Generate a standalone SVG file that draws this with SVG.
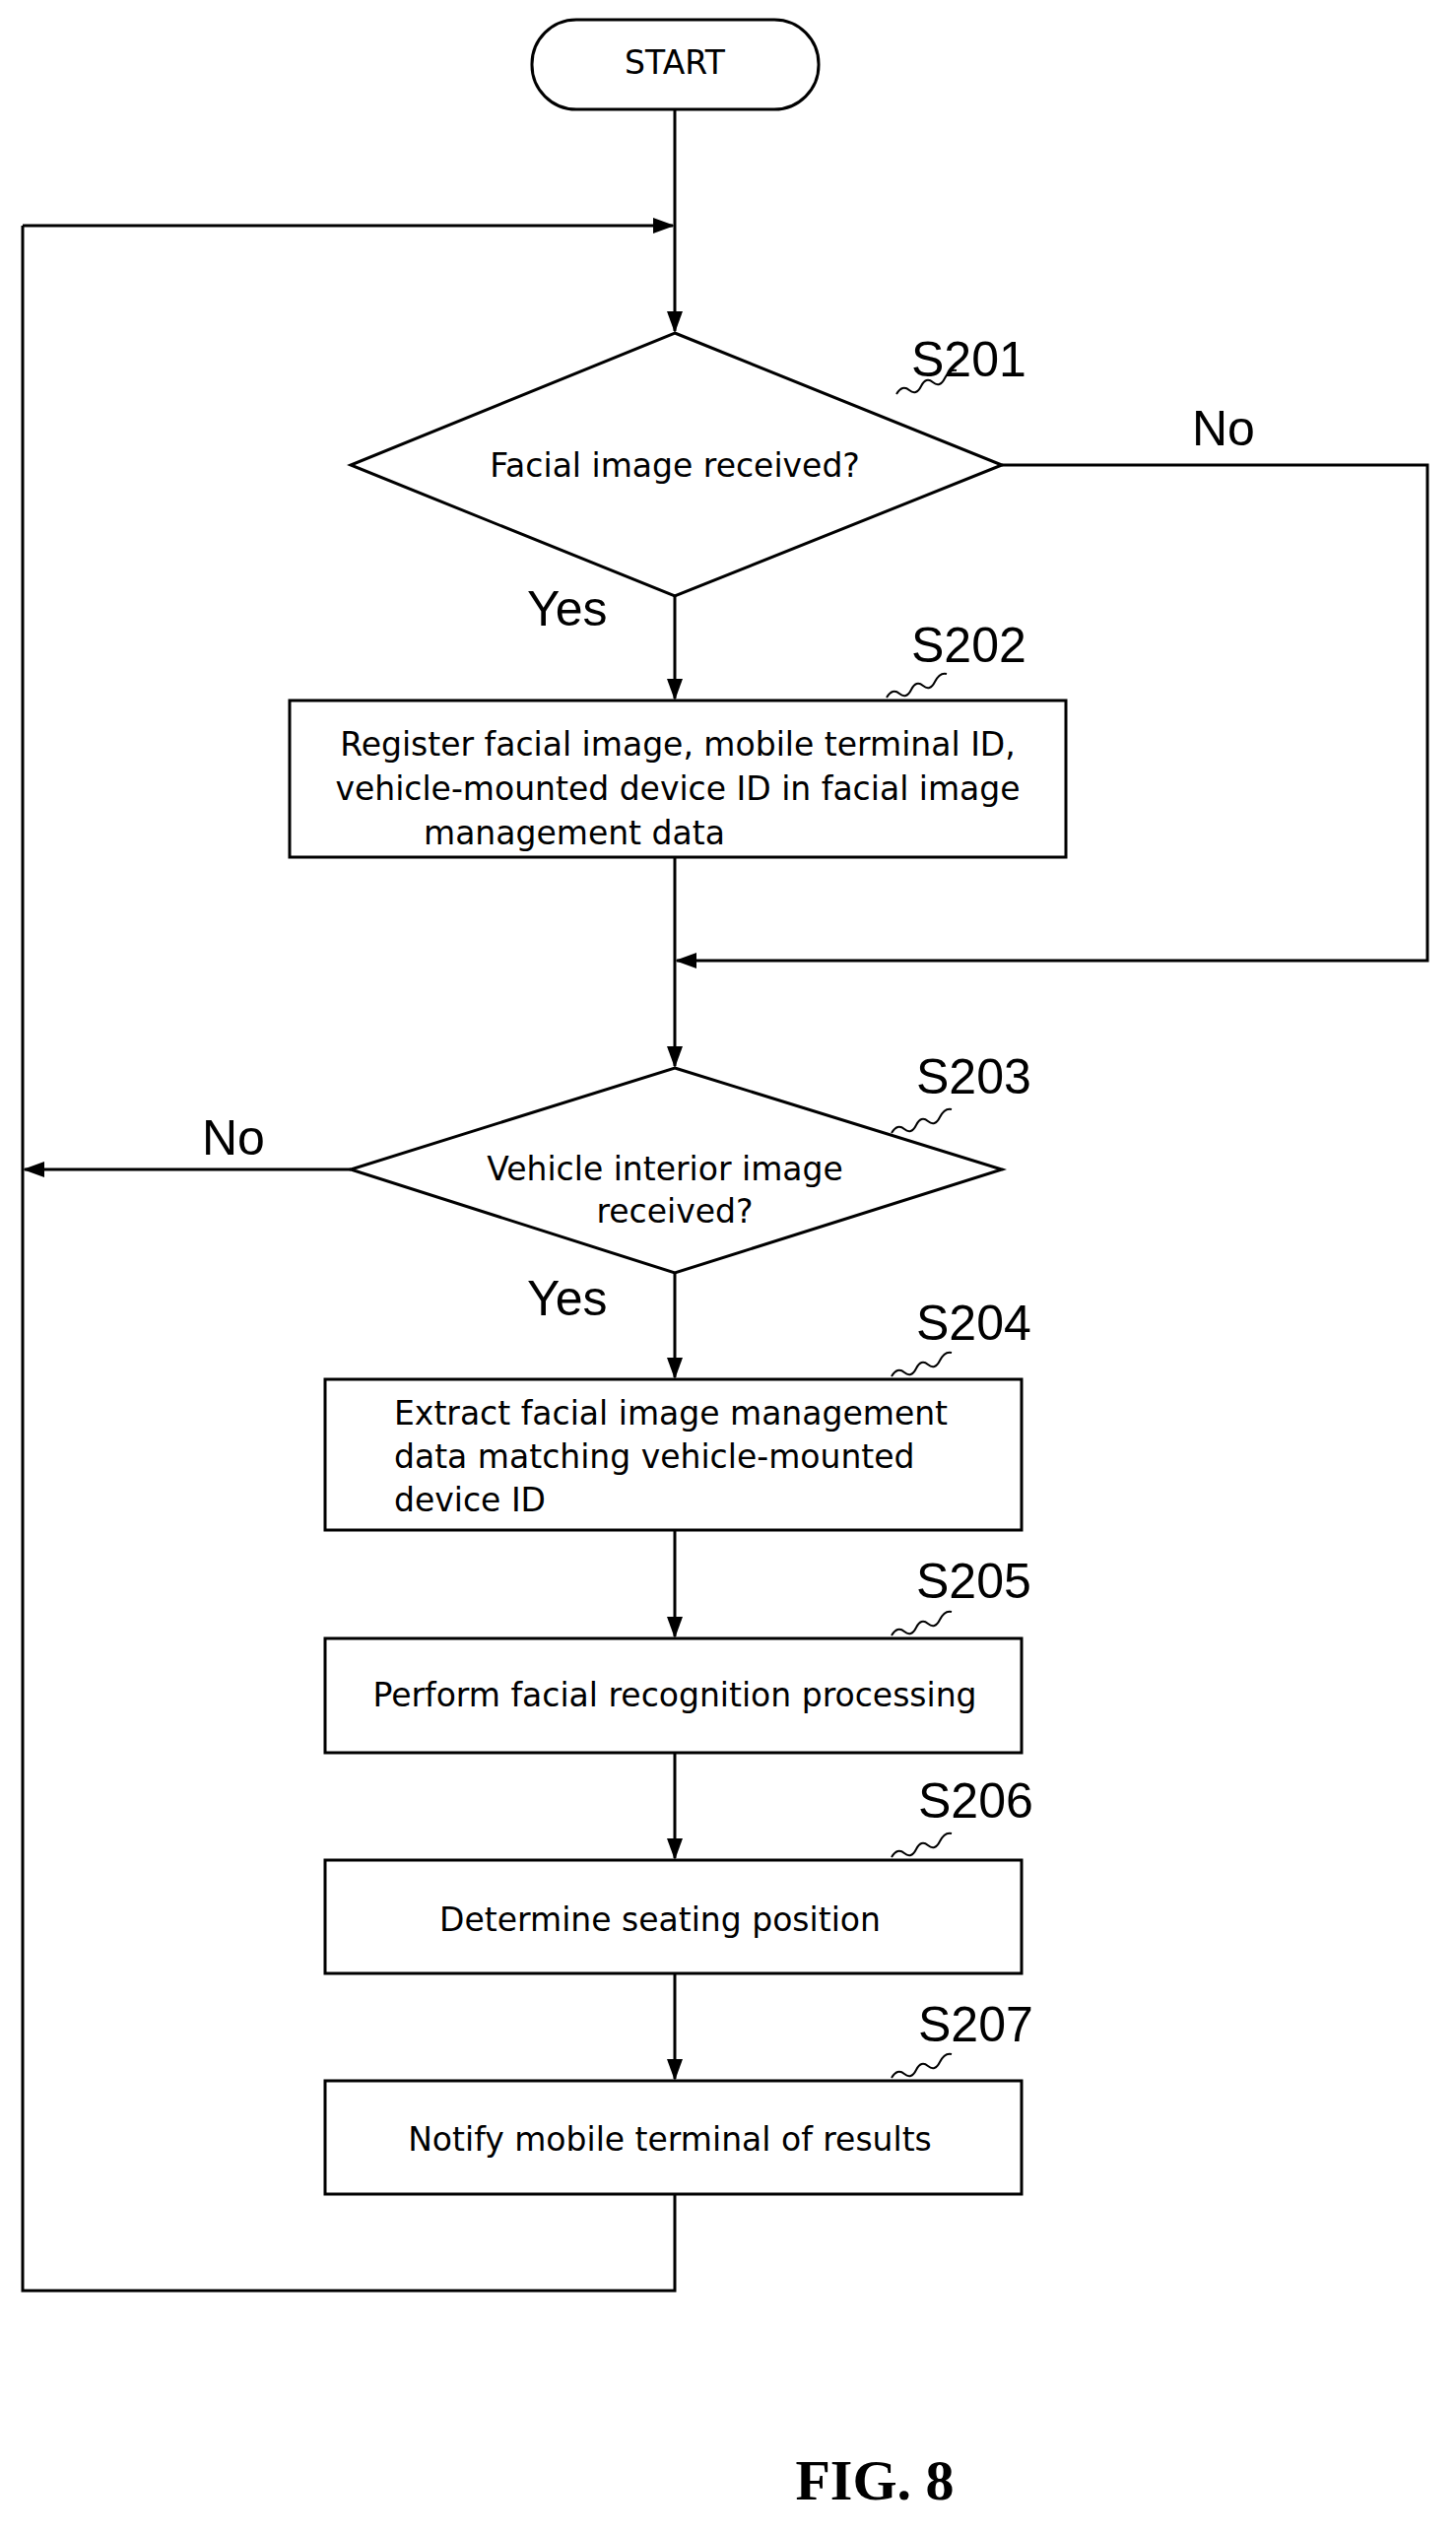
<svg xmlns="http://www.w3.org/2000/svg" width="1478" height="2571" viewBox="0 0 1478 2571">
<style>
.s{fill:#fff;stroke:#000;stroke-width:3}
.l{fill:none;stroke:#000;stroke-width:3}
.t{font-family:"DejaVu Sans",sans-serif;font-size:33px;text-anchor:middle}
.b{font-family:"Liberation Sans",sans-serif;font-size:50px}
.w{fill:none;stroke:#000;stroke-width:2}
</style>
<defs>
<marker id="m" markerWidth="22" markerHeight="22" refX="20" refY="11" orient="auto" markerUnits="userSpaceOnUse"><path d="M0,3L22,11L0,19z"/></marker></defs>
<g id="connectors">
<path class="l" d="M685,111V336" marker-end="url(#m)"/>
<path class="l" d="M23,229H683" marker-end="url(#m)"/>
<path class="l" d="M685,605V709" marker-end="url(#m)"/>
<path class="l" d="M685,870V1082" marker-end="url(#m)"/>
<path class="l" d="M1017,472H1449V975H687" marker-end="url(#m)"/>
<path class="l" d="M356,1187H25" marker-end="url(#m)"/>
<path class="l" d="M685,1292V1398" marker-end="url(#m)"/>
<path class="l" d="M685,1553V1661" marker-end="url(#m)"/>
<path class="l" d="M685,1779V1886" marker-end="url(#m)"/>
<path class="l" d="M685,2003V2110" marker-end="url(#m)"/>
<path class="l" d="M685,2227V2325H23V229"/>
<text class="b" x="1210" y="452">No</text>
<text class="b" x="535" y="635">Yes</text>
<text class="b" x="205" y="1172">No</text>
<text class="b" x="535" y="1335">Yes</text>
</g>
<g id="start"><rect class="s" x="540" y="20" width="291" height="91" rx="45"/><text class="t" x="685" y="75">START</text></g>
<g id="S201"><polygon class="s" points="685,338 1017,472 685,605 356,472"/><text class="t" x="685" y="484">Facial image received?</text>
<path class="w" d="M910,400q6,-10 13,-4t12,-4t12,-4t12,-4t12,-8"/><text class="b" x="925" y="382">S201</text></g>
<g id="S202"><rect class="s" x="294" y="711" width="788" height="159"/>
<text class="t" x="688" y="767">Register facial image, mobile terminal ID,</text>
<text class="t" x="688" y="812">vehicle-mounted device ID in facial image</text>
<text class="t" x="430" y="857" style="text-anchor:start">management data</text>
<path class="w" d="M900,708q6,-10 13,-4t12,-4t12,-4t12,-4t12,-8"/><text class="b" x="925" y="672">S202</text></g>
<g id="S203"><polygon class="s" points="685,1084 1017,1187 685,1292 356,1187"/>
<text class="t" x="675" y="1198">Vehicle interior image</text><text class="t" x="685" y="1241">received?</text>
<path class="w" d="M905,1150q6,-10 13,-4t12,-4t12,-4t12,-4t12,-8"/><text class="b" x="930" y="1110">S203</text></g>
<g id="S204"><rect class="s" x="330" y="1400" width="707" height="153"/>
<text class="t" x="400" y="1446" style="text-anchor:start">Extract facial image management</text>
<text class="t" x="400" y="1490" style="text-anchor:start">data matching vehicle-mounted</text>
<text class="t" x="400" y="1534" style="text-anchor:start">device ID</text>
<path class="w" d="M905,1397q6,-10 13,-4t12,-4t12,-4t12,-4t12,-8"/><text class="b" x="930" y="1360">S204</text></g>
<g id="S205"><rect class="s" x="330" y="1663" width="707" height="116"/><text class="t" x="685" y="1732">Perform facial recognition processing</text>
<path class="w" d="M905,1660q6,-10 13,-4t12,-4t12,-4t12,-4t12,-8"/><text class="b" x="930" y="1622">S205</text></g>
<g id="S206"><rect class="s" x="330" y="1888" width="707" height="115"/><text class="t" x="670" y="1960">Determine seating position</text>
<path class="w" d="M905,1885q6,-10 13,-4t12,-4t12,-4t12,-4t12,-8"/><text class="b" x="932" y="1845">S206</text></g>
<g id="S207"><rect class="s" x="330" y="2112" width="707" height="115"/><text class="t" x="680" y="2183">Notify mobile terminal of results</text>
<path class="w" d="M905,2109q6,-10 13,-4t12,-4t12,-4t12,-4t12,-8"/><text class="b" x="932" y="2072">S207</text></g>
<text x="888" y="2537" style="font-family:'Liberation Serif',serif;font-weight:bold;font-size:58px;text-anchor:middle">FIG. 8</text>
</svg>
